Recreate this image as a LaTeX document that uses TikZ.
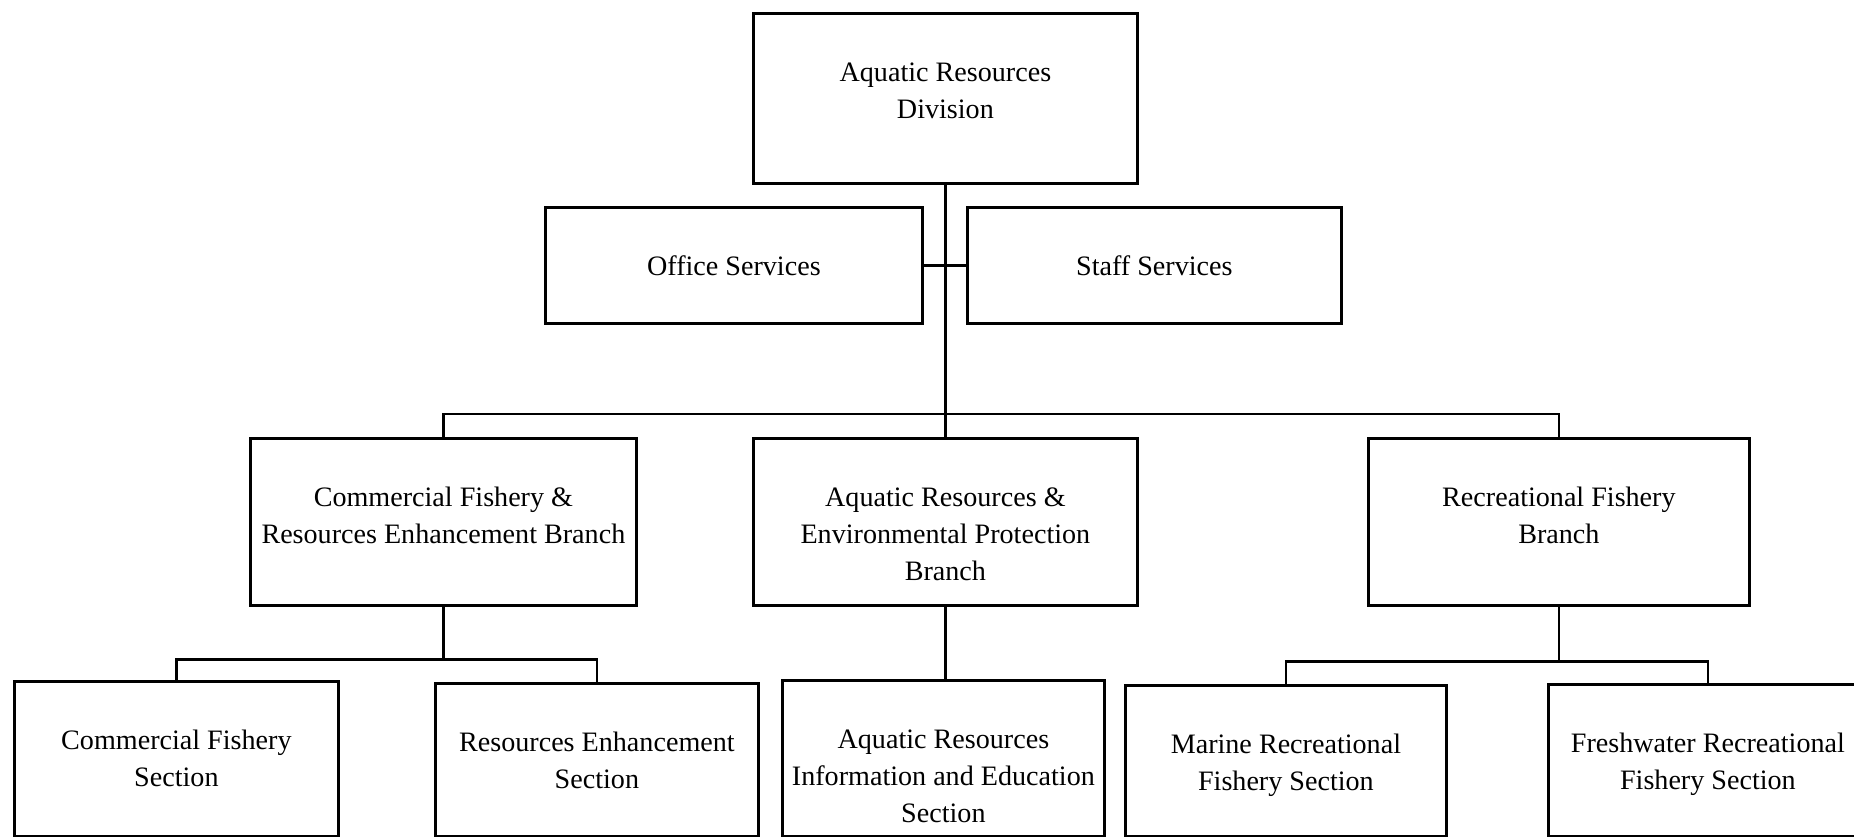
\documentclass[tikz,border=0pt]{standalone}
\usepackage{fontspec}
\setmainfont{Liberation Serif}
\newlength\pxu
\setlength\pxu{0.1mm}
\newcommand{\orgbox}[3]{\parbox[t][#2\pxu][t]{#1\pxu}{\centering\rule{0pt}{68\pxu}#3}}

\begin{document}
\begin{tikzpicture}
  [x=0.1mm,y=-0.1mm,line width=0.8pt,
   every node/.style={draw,inner sep=0pt,anchor=north west,font=\fontsize{8}{10.5}\selectfont}]
  \useasboundingbox (0,0) rectangle (1854,836);
  \clip (0,0) rectangle (1854,836);
  \node (div) at (752,12) {\orgbox{384}{170}{Aquatic Resources\\Division}};
  \node (office) at (544,206) {\orgbox{377}{116}{Office Services}};
  \node (staff) at (966,206) {\orgbox{374}{116}{Staff Services}};
  \node (cf) at (249,437) {\orgbox{386}{167}{Commercial Fishery \&\\Resources Enhancement Branch}};
  \node (ar) at (752,437) {\orgbox{384}{167}{Aquatic Resources \&\\Environmental Protection\\Branch}};
  \node (rf) at (1367,437) {\orgbox{381}{167}{Recreational Fishery\\Branch}};
  \node (cfs) at (13,680) {\orgbox{324}{155}{Commercial Fishery\\Section}};
  \node (res) at (434,682) {\orgbox{323}{153}{Resources Enhancement\\Section}};
  \node (arie) at (781,679) {\orgbox{322}{156}{Aquatic Resources\\Information and Education\\Section}};
  \node (mrf) at (1124,684) {\orgbox{321}{151}{Marine Recreational\\Fishery Section}};
  \node (frf) at (1547,683) {\orgbox{319}{152}{Freshwater Recreational\\Fishery Section}};
  % connectors
  \coordinate (hub) at (944,414);
  \draw (div.south) -- (ar.north);
  \draw (office.east) -- (staff.west);
  \draw (cf.north) |- (hub) -| (rf.north);
  \draw (cf.south) -- ++(0,53) coordinate (cfhub);
  \draw (cfs.north) |- (cfhub) -| (res.north);
  \draw (ar.south) -- (ar.south |- arie.north);
  \draw (rf.south) -- ++(0,55) coordinate (rfhub);
  \draw (mrf.north) |- (rfhub) -| (frf.north);
\end{tikzpicture}
\end{document}
